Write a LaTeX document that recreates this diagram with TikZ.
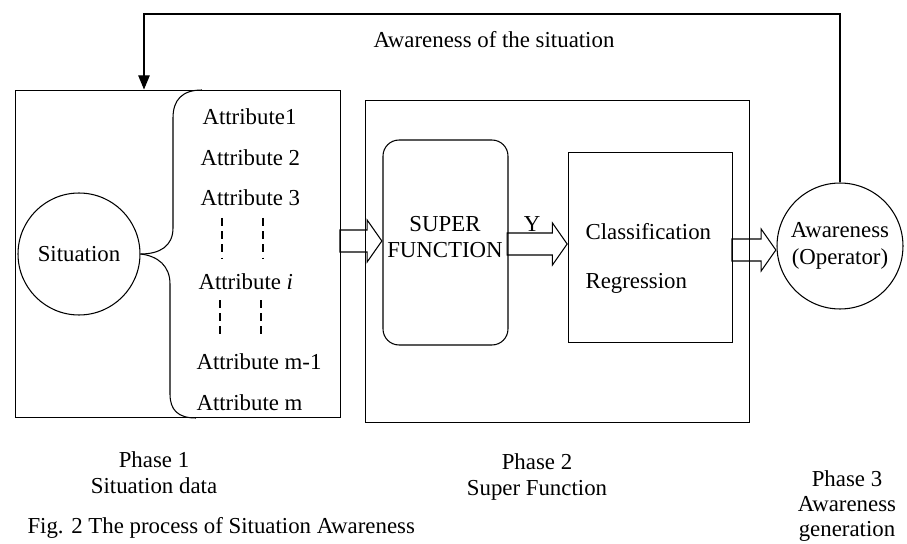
\documentclass[tikz,border=0pt]{standalone}
\usepackage{fontspec}
\setmainfont{Liberation Serif}
\usetikzlibrary{arrows.meta,shapes.arrows}

\begin{document}
\begin{tikzpicture}[
  x=0.02cm, y=-0.02cm, line width=0.6pt,
  every node/.append style={font=\fontsize{13}{15}\selectfont},
  phasebox/.style={rectangle, draw=black, inner sep=0pt},
  fnbox/.style={rectangle, draw=black, rounded corners=0.32cm, inner sep=0pt,
                minimum width=2.5cm, minimum height=4.1cm},
  blob/.style={circle, draw=black, inner sep=0pt, align=center},
  attr/.style={anchor=west, inner sep=0pt},
  dashcol/.style={line width=0.9pt, dash pattern=on 4.5pt off 3pt},
  fatarrow/.style={single arrow, draw=black, inner xsep=0pt, inner ysep=0.21cm,
                   single arrow head extend=0.2cm, single arrow tip angle=110},
  phase/.style={align=center}
]
\useasboundingbox (0,0) rectangle (907,544);

% phase 1: situation and its attributes
\node[phasebox, minimum width=6.52cm, minimum height=6.56cm] (phase1) at (178,254) {};
\node[blob, minimum size=2.44cm] (sit) at (79,254) {Situation};
\draw (sit.east) .. controls (160,254) and (173,246) .. (173,228) -- (173,118)
      .. controls (173,100) and (182,90) .. (202,90);
\draw (sit.east) .. controls (158,256) and (170,266) .. (170,284) -- (170,394)
      .. controls (170,410) and (178,418) .. (196,418);

\node[attr] (a1) at (202,117) {Attribute1};
\node[attr] (a2) at (200,158) {Attribute 2};
\node[attr] (a3) at (200,198) {Attribute 3};
\node[attr] (ai) at (198,282) {Attribute \textit{i}};
\node[attr] (am1) at (196,362) {Attribute m-1};
\node[attr] (am) at (196,403) {Attribute m};
\foreach \dx in {222,263} {
  \draw[dashcol] (\dx,218) -- (\dx,258);
  \draw[dashcol] (\dx-2,300) -- (\dx-2,338);
}

% phase 2: super function
\node[phasebox, minimum width=7.7cm, minimum height=6.46cm] (phase2) at (557.5,261.5) {};
\node[fnbox] (superfn) at (445.5,242.5) {};
\node[align=center] (superlbl) at (445,237) {SUPER\\FUNCTION};
\node[phasebox, minimum width=3.28cm, minimum height=3.8cm] (clsbox) at (650.3,247.3) {};
\node[attr] (cls) at (585,232) {Classification};
\node[attr] (reg) at (585,283) {Regression};

% phase 3: operator
\node[blob, minimum size=2.52cm] (aware) at (840,246) {Awareness\\(Operator)};

% hollow arrows
\coordinate (inrow) at (0,241);
\coordinate (yrow) at (0,244);
\coordinate (outrow) at (0,250);
\node[fatarrow, minimum height=0.84cm, anchor=tip] (inarrow) at (superfn.west |- inrow) {};
\node[fatarrow, minimum height=1.2cm, anchor=tip] (yarrow) at (clsbox.west |- yrow) {};
\node (ylbl) at (532,224) {Y};
\node[fatarrow, minimum height=0.88cm, anchor=tip] (outarrow) at (aware.west |- outrow) {};

% feedback
\coordinate (fbcorner) at (144,14);
\draw[-{Triangle[length=8pt,width=6.5pt]}] (aware.north) |- (fbcorner) -- (fbcorner |- phase1.north);
\node (fblbl) at (494,40) {Awareness of the situation};

% captions
\node[phase] (ph1) at (154,473) {Phase 1\\Situation data};
\node[phase] (ph2) at (537,477) {Phase 2\\Super Function};
\node[phase, font=\fontsize{13}{14.3}\selectfont] (ph3) at (847,506) {Phase 3\\Awareness\\generation};
\node[attr] (caption) at (27,528) {Fig. 2 The process of Situation Awareness};

\end{tikzpicture}
\end{document}
